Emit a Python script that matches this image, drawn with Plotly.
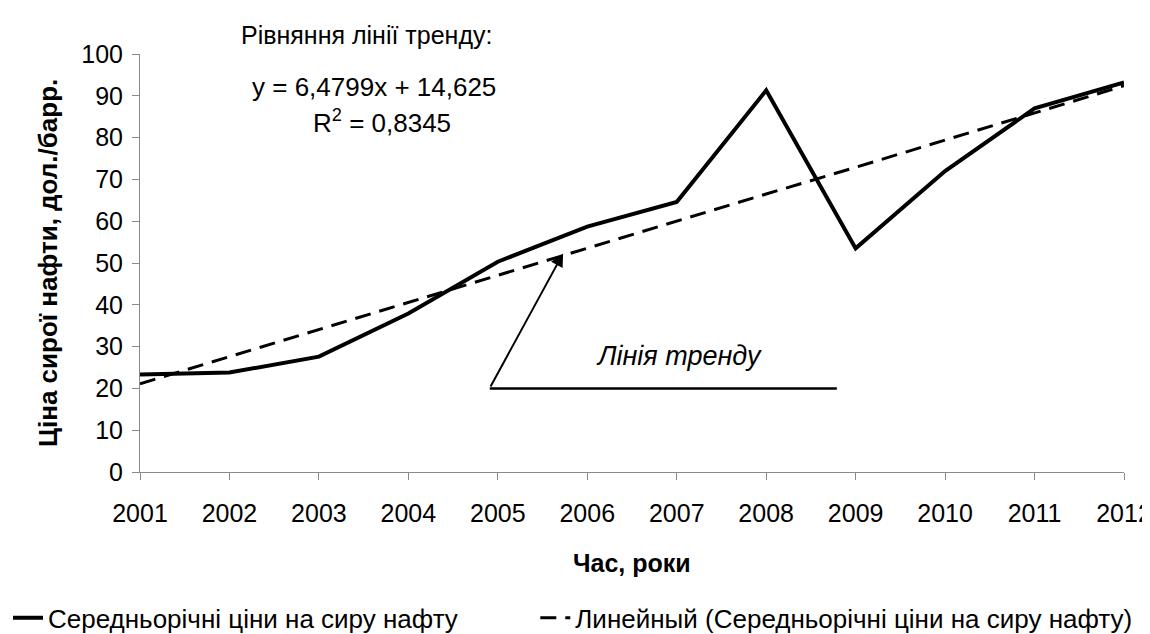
import plotly.graph_objects as go

# ---- data ----
years = [2001, 2002, 2003, 2004, 2005, 2006, 2007, 2008, 2009, 2010, 2011, 2012]
year_labels = [str(y) for y in years]
prices = [23.3, 23.8, 27.6, 37.9, 50.3, 58.7, 64.6, 91.3, 53.5, 72.0, 87.0, 93.2]
trend = [21.1, 27.6, 34.1, 40.5, 47.0, 53.5, 60.0, 66.5, 72.9, 79.4, 85.9, 92.4]
y_ticks = [0, 10, 20, 30, 40, 50, 60, 70, 80, 90, 100]

series_name = "Середньорічні ціни на сиру нафту"
trend_name = "Линейный (Середньорічні ціни на сиру нафту)"
eq_title = "Рівняння лінії тренду:"
eq_text = "y = 6,4799x + 14,625"
r2_text = "R<sup>2</sup> = 0,8345"
trend_label = "<i>Лінія тренду</i>"
x_title = "<b>Час, роки</b>"
y_title = "<b>Ціна сирої нафти, дол./барр.</b>"

FONT = "Arial, 'Liberation Sans', sans-serif"

fig = go.Figure()
fig.add_trace(go.Scatter(
    x=years, y=prices, mode="lines", name=series_name, legend="legend",
    line=dict(color="black", width=4), cliponaxis=False,
))
fig.add_trace(go.Scatter(
    x=years, y=trend, mode="lines", name=trend_name, legend="legend2",
    line=dict(color="black", width=3, dash="16px,9px"), cliponaxis=False,
))

annotations = [
    dict(x=2003.53, y=1.045, xref="x", yref="paper", text=eq_title, showarrow=False,
         font=dict(size=25, color="black", family=FONT), xanchor="center", yanchor="middle"),
    dict(x=2003.62, y=0.921, xref="x", yref="paper", text=eq_text, showarrow=False,
         font=dict(size=26, color="black", family=FONT), xanchor="center", yanchor="middle"),
    dict(x=2003.70, y=0.838, xref="x", yref="paper", text=r2_text, showarrow=False,
         font=dict(size=26, color="black", family=FONT), xanchor="center", yanchor="middle"),
    dict(x=2007.02, y=27.75, xref="x", yref="y", text=trend_label, showarrow=False,
         font=dict(size=27, color="black", family=FONT), xanchor="center", yanchor="middle"),
    # arrow pointing to the trend line
    dict(x=2005.73, y=52.3, xref="x", yref="y", ax=2004.91, ay=20.1, axref="x", ayref="y",
         text="", showarrow=True, arrowhead=2, arrowsize=1.3, arrowwidth=2, arrowcolor="black"),
    # axis titles
    dict(x=0.5, y=0, xref="paper", yref="paper", yshift=-91, text=x_title, showarrow=False,
         font=dict(size=25, color="black", family=FONT), xanchor="center", yanchor="middle"),
    dict(x=0, y=0.5, xref="paper", yref="paper", xshift=-92, text=y_title, showarrow=False,
         textangle=-90, font=dict(size=26, color="black", family=FONT),
         xanchor="center", yanchor="middle"),
]

fig.add_shape(type="line", xref="x", yref="y", x0=2004.91, y0=20, x1=2008.79, y1=20,
              line=dict(color="black", width=2.5))

legend_common = dict(orientation="h", xref="container", yref="container", y=0.038,
                     yanchor="middle", font=dict(size=26, family=FONT, color="black"),
                     bgcolor="rgba(0,0,0,0)", borderwidth=0)

fig.update_layout(
    width=1150, height=634,
    margin=dict(l=132, r=34, t=46, b=170, autoexpand=False),
    paper_bgcolor="white", plot_bgcolor="white",
    font=dict(family=FONT, size=25, color="black"),
    showlegend=True,
    legend=dict(x=0.0, xanchor="left", **legend_common),
    legend2=dict(x=0.982, xanchor="right", **legend_common),
    annotations=annotations,
)
fig.update_xaxes(
    range=[2001, 2012], tickvals=years, ticktext=year_labels,
    showgrid=False, zeroline=False, showline=True, linecolor="#8a8a8a", linewidth=1,
    ticks="outside", ticklen=7, tickcolor="#8a8a8a", tickwidth=1,
    tickfont=dict(size=25, family=FONT, color="black"), ticklabelstandoff=12,
)
fig.update_yaxes(
    range=[0, 100], tickvals=y_ticks,
    showgrid=False, zeroline=False, showline=True, linecolor="#8a8a8a", linewidth=1,
    ticks="outside", ticklen=7, tickcolor="#8a8a8a", tickwidth=1,
    tickfont=dict(size=25, family=FONT, color="black"), ticklabelstandoff=4,
)

fig.write_html("out.html")
